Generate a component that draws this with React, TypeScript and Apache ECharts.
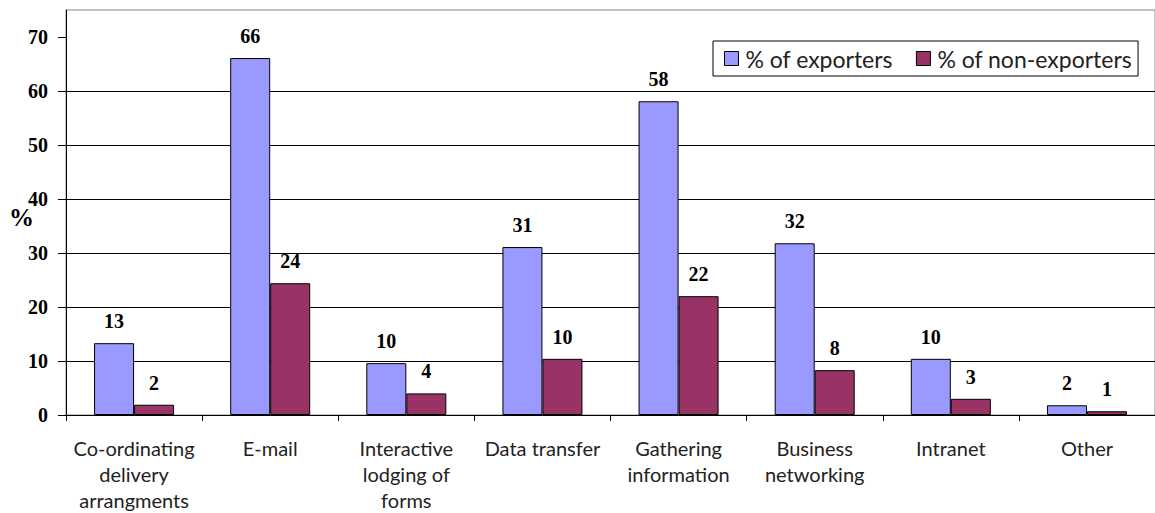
import React, { useEffect, useRef } from "react";
import * as echarts from "echarts";

const categories = [
  "Co-ordinating\ndelivery\narrangments",
  "E-mail",
  "Interactive\nlodging of\nforms",
  "Data transfer",
  "Gathering\ninformation",
  "Business\nnetworking",
  "Intranet",
  "Other",
];
const exporters = [13.3, 66.1, 9.6, 31.1, 58.1, 31.8, 10.4, 1.8];
const nonExporters = [1.9, 24.4, 4.0, 10.4, 22.0, 8.3, 3.0, 0.7];
const yTicks = [0, 10, 20, 30, 40, 50, 60, 70];

const serif = "'Liberation Serif', 'Times New Roman', serif";
const sans = "Lato, 'Open Sans', sans-serif";

export default function App() {
  const ref = useRef<HTMLDivElement>(null);
  useEffect(() => {
    if (!ref.current) return;
    const chart = echarts.init(ref.current, null, { renderer: "svg" });
    const label = {
      show: true,
      position: "top",
      distance: 12,
      fontFamily: serif,
      fontWeight: "bold",
      fontSize: 20,
      color: "#000",
      formatter: (p: any) => String(Math.round(p.value)),
    };
    chart.setOption({
      animation: false,
      backgroundColor: "#fff",
      grid: {
        left: 66,
        right: -4,
        top: 10,
        bottom: 98,
        show: true,
        borderColor: "#888",
        borderWidth: 1,
        backgroundColor: "transparent",
      },
      legend: {
        left: 713,
        top: 41,
        orient: "horizontal",
        selectedMode: false,
        backgroundColor: "#fff",
        borderColor: "#000",
        borderWidth: 1,
        padding: [6, 6, 6, 11],
        itemWidth: 14,
        itemHeight: 14,
        itemGap: 23,
        icon: "rect",
        textStyle: { fontFamily: sans, fontSize: 23, color: "#222", padding: [0, 0, 0, 2] },
        data: [
          { name: "% of exporters", itemStyle: { borderColor: "#000", borderWidth: 1 } },
          { name: "% of non-exporters", itemStyle: { borderColor: "#000", borderWidth: 1 } },
        ],
      },
      xAxis: {
        type: "category",
        data: categories,
        axisLine: { lineStyle: { color: "#000", width: 1 } },
        axisTick: { show: true, length: 6, lineStyle: { color: "#000" } },
        axisLabel: {
          interval: 0,
          margin: 20,
          fontFamily: sans,
          fontSize: 20,
          lineHeight: 26,
          color: "#222",
        },
      },
      yAxis: {
        type: "value",
        min: 0,
        max: 75,
        interval: 10,
        axisLine: { show: true, lineStyle: { color: "#000", width: 1 } },
        axisTick: { show: true, length: 8, customValues: yTicks, lineStyle: { color: "#000" } },
        axisLabel: {
          customValues: yTicks,
          margin: 18,
          fontFamily: serif,
          fontWeight: "bold",
          fontSize: 20,
          color: "#000",
        },
        splitLine: { show: true, showMaxLine: false, lineStyle: { color: "#000", width: 1 } },
      },
      graphic: [
        {
          type: "text",
          left: 9,
          top: 205,
          style: { text: "%", font: `bold 25px ${serif}`, fill: "#000" },
        },
      ],
      series: [
        {
          name: "% of exporters",
          type: "bar",
          data: exporters,
          barWidth: 40,
          barGap: "0%",
          itemStyle: { color: "#9999FF", borderColor: "#000", borderWidth: 1 },
          label,
        },
        {
          name: "% of non-exporters",
          type: "bar",
          data: nonExporters,
          barWidth: 40,
          itemStyle: { color: "#993366", borderColor: "#000", borderWidth: 1 },
          label,
        },
      ],
    });
    return () => chart.dispose();
  }, []);
  return <div ref={ref} style={{ width: 1155, height: 513, position: "absolute", left: 0, top: 0 }} />;
}
